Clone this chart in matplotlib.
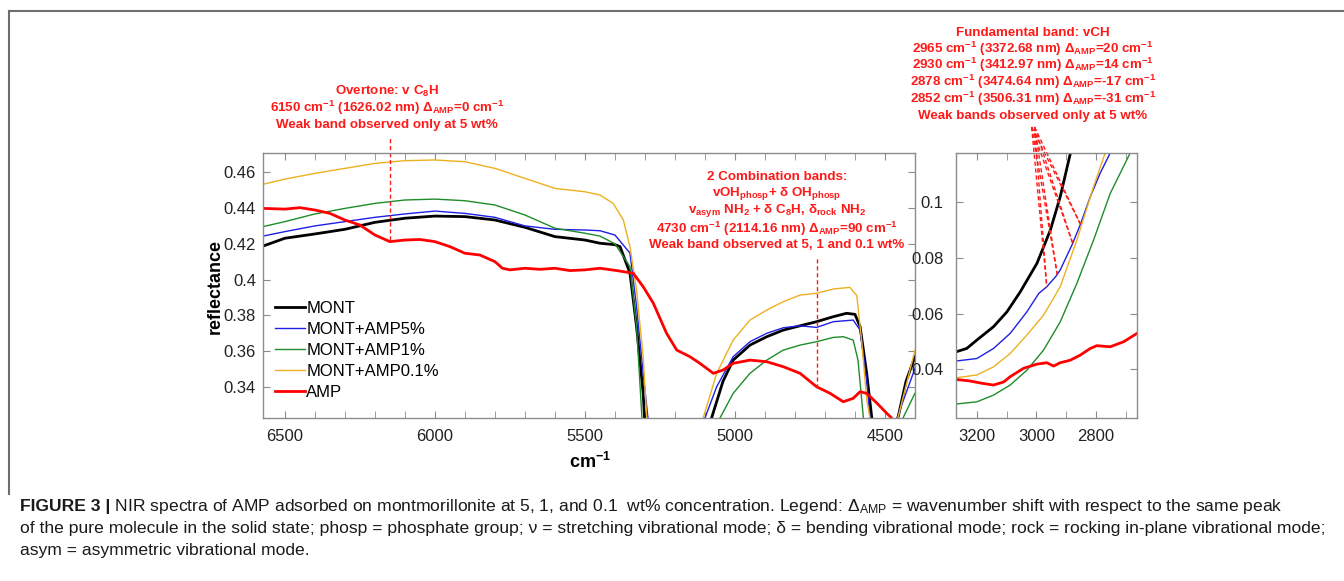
import numpy as np
import matplotlib.pyplot as plt
from matplotlib.lines import Line2D
from matplotlib.ticker import MultipleLocator, FuncFormatter

plt.rcParams['font.family'] = ['Liberation Sans', 'DejaVu Sans']
plt.rcParams['mathtext.fontset'] = 'custom'
plt.rcParams['mathtext.rm'] = 'Liberation Sans'
plt.rcParams['mathtext.bf'] = 'Liberation Sans:bold'
plt.rcParams['mathtext.it'] = 'Liberation Sans:italic'
plt.rcParams['mathtext.default'] = 'regular'

# ---- NIR region (cm-1 vs reflectance) ----
wn_mont = [6573, 6500, 6400, 6300, 6200, 6100, 6000, 5900, 5800, 5700, 5600, 5500, 5450, 5400,
           5383, 5350, 5328, 5306, 5294, 5270, 5100, 5078, 5040, 5006, 4950, 4894, 4839, 4783,
           4728, 4672, 4628, 4600, 4583, 4561, 4544, 4520, 4470, 4457, 4430, 4400]
r_mont = [0.4187, 0.4231, 0.4255, 0.4281, 0.4320, 0.4343, 0.4355, 0.4352, 0.4333, 0.4292, 0.4240,
          0.4221, 0.4203, 0.4195, 0.4184, 0.4036, 0.3736, 0.3364, 0.3000, 0.2800, 0.2800, 0.3225,
          0.3430, 0.3549, 0.3633, 0.3680, 0.3717, 0.3741, 0.3764, 0.3792, 0.3811, 0.3805, 0.3736,
          0.3475, 0.3225, 0.2900, 0.2900, 0.3225, 0.3430, 0.3568]

wn_amp5 = [6573, 6500, 6400, 6300, 6200, 6100, 6000, 5900, 5800, 5700, 5600, 5500, 5450, 5400,
           5350, 5328, 5306, 5290, 5270, 5120, 5100, 5061, 5006, 4950, 4894, 4839, 4783, 4728,
           4672, 4606, 4583, 4561, 4550, 4530, 4470, 4460, 4400]
r_amp5 = [0.4243, 0.4268, 0.4300, 0.4324, 0.4348, 0.4367, 0.4383, 0.4370, 0.4348, 0.4300, 0.4281,
          0.4277, 0.4273, 0.4249, 0.4148, 0.3848, 0.3475, 0.3225, 0.2900, 0.2900, 0.3225, 0.3400,
          0.3568, 0.3652, 0.3699, 0.3730, 0.3741, 0.3732, 0.3764, 0.3773, 0.3717, 0.3438, 0.3225,
          0.2900, 0.2900, 0.3225, 0.3503]

wn_amp1 = [6573, 6500, 6400, 6300, 6200, 6100, 6000, 5900, 5800, 5700, 5600, 5500, 5450, 5400,
           5350, 5328, 5310, 5290, 5070, 5050, 5006, 4950, 4894, 4839, 4783, 4728, 4672, 4639,
           4606, 4590, 4572, 4555, 4460, 4440, 4400]
r_amp1 = [0.4296, 0.4324, 0.4367, 0.4398, 0.4426, 0.4445, 0.4450, 0.4441, 0.4417, 0.4361, 0.4287,
          0.4259, 0.4243, 0.4200, 0.4072, 0.3736, 0.3225, 0.2900, 0.2900, 0.3225, 0.3363, 0.3475,
          0.3549, 0.3605, 0.3633, 0.3652, 0.3676, 0.3680, 0.3661, 0.3549, 0.3225, 0.2900, 0.2900,
          0.3225, 0.3364]

wn_amp01 = [6573, 6500, 6400, 6300, 6200, 6100, 6000, 5900, 5800, 5700, 5600, 5500, 5450, 5406,
            5372, 5350, 5328, 5306, 5294, 5280, 5120, 5106, 5061, 5006, 4950, 4894, 4839, 4783,
            4728, 4672, 4617, 4594, 4578, 4561, 4550, 4535, 4470, 4457, 4400]
r_amp01 = [0.4533, 0.4562, 0.4594, 0.4622, 0.4650, 0.4665, 0.4669, 0.4659, 0.4622, 0.4566, 0.4510,
           0.4491, 0.4473, 0.4426, 0.4333, 0.4184, 0.3941, 0.3568, 0.3225, 0.2900, 0.2900, 0.3225,
           0.3475, 0.3661, 0.3773, 0.3829, 0.3876, 0.3913, 0.3923, 0.3947, 0.3956, 0.3910, 0.3661,
           0.3330, 0.3225, 0.2900, 0.2900, 0.3225, 0.3605]

wn_amp = [6573, 6500, 6450, 6400, 6350, 6300, 6250, 6200, 6150, 6100, 6050, 6000, 5950, 5900,
          5850, 5800, 5775, 5750, 5700, 5650, 5600, 5550, 5500, 5450, 5394, 5339, 5306, 5272,
          5228, 5194, 5150, 5117, 5072, 5039, 5006, 4950, 4894, 4839, 4783, 4728, 4683, 4639,
          4606, 4583, 4561, 4528, 4494, 4478, 4460]
r_amp = [0.4398, 0.4394, 0.4402, 0.4389, 0.4370, 0.4333, 0.4305, 0.4249, 0.4212, 0.4221, 0.4224,
         0.4212, 0.4184, 0.4147, 0.4137, 0.4100, 0.4063, 0.4054, 0.4063, 0.4057, 0.4063, 0.4050,
         0.4054, 0.4063, 0.4050, 0.4035, 0.3960, 0.3867, 0.3699, 0.3605, 0.3568, 0.3531, 0.3475,
         0.3494, 0.3531, 0.3549, 0.3540, 0.3512, 0.3475, 0.3400, 0.3363, 0.3316, 0.3335, 0.3372,
         0.3363, 0.3310, 0.3251, 0.3225, 0.3000]

# ---- MIR inset (vCH region) ----
wn_mir_mont = [3270, 3234, 3200, 3144, 3099, 3054, 2998, 2953, 2920, 2886]
r_mir_mont = [0.0463, 0.0475, 0.0505, 0.0553, 0.0606, 0.0678, 0.0780, 0.0899, 0.1018, 0.1173]
wn_mir_amp5 = [3270, 3200, 3144, 3088, 3032, 2992, 2965, 2934, 2920, 2879, 2853, 2819, 2786, 2752]
r_mir_amp5 = [0.0430, 0.0439, 0.0475, 0.0529, 0.0606, 0.0672, 0.0696, 0.0734, 0.0756, 0.0849,
              0.0917, 0.1018, 0.1102, 0.1175]
wn_mir_amp1 = [3270, 3200, 3144, 3088, 3032, 2976, 2920, 2864, 2808, 2752, 2685]
r_mir_amp1 = [0.0276, 0.0284, 0.0308, 0.0344, 0.0397, 0.0469, 0.0570, 0.0708, 0.0863, 0.1030, 0.1175]
wn_mir_amp01 = [3270, 3200, 3144, 3088, 3032, 2976, 2920, 2864, 2808, 2769]
r_mir_amp01 = [0.0370, 0.0380, 0.0409, 0.0457, 0.0523, 0.0594, 0.0696, 0.0863, 0.1054, 0.1175]
wn_mir_amp = [3270, 3226, 3181, 3144, 3110, 3088, 3043, 2998, 2965, 2942, 2920, 2886, 2853, 2819,
              2797, 2752, 2707, 2662]
r_mir_amp = [0.0364, 0.0359, 0.0350, 0.0344, 0.0355, 0.0374, 0.0404, 0.0419, 0.0424, 0.0412,
             0.0424, 0.0433, 0.0451, 0.0475, 0.0485, 0.0481, 0.0499, 0.0529]

labels = ['MONT', 'MONT+AMP5%', 'MONT+AMP1%', 'MONT+AMP0.1%', 'AMP']
colors = ['#000000', '#1f1fe6', '#1e8c2a', '#edb120', '#ff0000']
widths = [2.0, 1.0, 1.0, 1.0, 2.0]

# band positions used for annotations
overtone_wn = 6150
combination_wn = 4725
vch_bands = [2965, 2930, 2878, 2852]

W, H = 1344, 581
RED = '#ff1a1a'
AXC = '#8c8c8c'


def fx(x):
    return x / W


def fy(y):
    return 1 - y / H


def style_axes(ax, ypad):
    for s in ax.spines.values():
        s.set_color(AXC)
        s.set_linewidth(1.0)
    ax.tick_params(which='both', direction='in', top=True, right=True, length=5,
                   color=AXC, labelsize=12, labelcolor='#222222')
    ax.tick_params(axis='x', pad=8)
    ax.tick_params(axis='y', pad=ypad)
    ax.yaxis.set_major_formatter(FuncFormatter(lambda v, p: '{:g}'.format(round(v, 4))))


fig = plt.figure(figsize=(13.44, 5.81), dpi=100)

ax = fig.add_axes([fx(263), fy(418), fx(915 - 263), (418 - 153) / H])
main_x = [wn_mont, wn_amp5, wn_amp1, wn_amp01, wn_amp]
main_y = [r_mont, r_amp5, r_amp1, r_amp01, r_amp]
for xs, ys, c, lw, lab in zip(main_x, main_y, colors, widths, labels):
    ax.plot(xs, ys, color=c, lw=lw, label=lab)
ax.set_xlim(6573, 4400)
ax.set_ylim(0.3225, 0.4708)
ax.xaxis.set_major_locator(MultipleLocator(500))
ax.xaxis.set_minor_locator(MultipleLocator(100))
ax.yaxis.set_major_locator(MultipleLocator(0.02))
style_axes(ax, 5)
ax.legend(loc='lower left', bbox_to_anchor=(0.018, 0.068), frameon=False, fontsize=12,
          handlelength=1.8, handletextpad=0.1, labelspacing=0.36, borderpad=0, borderaxespad=0)

# vertical markers in the NIR panel
ax.plot([overtone_wn, overtone_wn], [0.4221, 0.4798], color=RED, lw=1, ls=(0, (3, 2)), clip_on=False)
ax.plot([combination_wn, combination_wn], [0.3391, 0.4128], color=RED, lw=1, ls=(0, (3, 2)))

ax2 = fig.add_axes([fx(956), fy(418), fx(1137 - 956), (418 - 153) / H])
mir_x = [wn_mir_mont, wn_mir_amp5, wn_mir_amp1, wn_mir_amp01, wn_mir_amp]
mir_y = [r_mir_mont, r_mir_amp5, r_mir_amp1, r_mir_amp01, r_mir_amp]
for xs, ys, c, lw in zip(mir_x, mir_y, colors, widths):
    ax2.plot(xs, ys, color=c, lw=lw)
ax2.set_xlim(3270, 2662)
ax2.set_ylim(0.0226, 0.1175)
ax2.xaxis.set_major_locator(MultipleLocator(200))
ax2.xaxis.set_minor_locator(MultipleLocator(100))
ax2.yaxis.set_major_locator(MultipleLocator(0.02))
style_axes(ax2, 9)

# leader lines from the vCH note to the 5% spectrum
for b in vch_bands:
    yb = np.interp(-b, [-v for v in wn_mir_amp5], r_mir_amp5)
    for x0 in (3016, 3006):
        ax2.plot([x0, b], [0.1268, yb], color=RED, lw=1, ls=(0, (3, 2)), clip_on=False)

# axis titles
fig.text(fx(215), fy(286), 'reflectance', rotation=90, ha='center', va='center',
         fontsize=13, fontweight='bold')
fig.text(fx(590), fy(462), r'cm$^{\mathbf{-1}}$', ha='center', va='center',
         fontsize=13, fontweight='bold')

# red notes, one text per line
txt = dict(color=RED, fontsize=9.6, fontweight='bold', ha='center', va='center')
overtone_lines = [r'Overtone: v C$_{\mathbf{8}}$H',
                  r'6150 cm$^{\mathbf{-1}}$ (1626.02 nm) Δ$_{\mathbf{AMP}}$=0 cm$^{\mathbf{-1}}$',
                  'Weak band observed only at 5 wt%']
for line, y in zip(overtone_lines, [91.0, 108.0, 125.0]):
    fig.text(fx(387), fy(y), line, **txt)

comb_lines = ['2 Combination bands:',
              r'vOH$_{\mathbf{phosp}}$+ δ OH$_{\mathbf{phosp}}$',
              r'v$_{\mathbf{asym}}$ NH$_{\mathbf{2}}$ + δ C$_{\mathbf{8}}$H, δ$_{\mathbf{rock}}$ NH$_{\mathbf{2}}$',
              r'4730 cm$^{\mathbf{-1}}$ (2114.16 nm) Δ$_{\mathbf{AMP}}$=90 cm$^{\mathbf{-1}}$',
              'Weak band observed at 5, 1 and 0.1 wt%']
for line, y in zip(comb_lines, [176.5, 194.0, 211.0, 228.5, 245.5]):
    fig.text(fx(777), fy(y), line, **txt)

fund_lines = ['Fundamental band: vCH',
              r'2965 cm$^{\mathbf{-1}}$ (3372.68 nm) Δ$_{\mathbf{AMP}}$=20 cm$^{\mathbf{-1}}$',
              r'2930 cm$^{\mathbf{-1}}$ (3412.97 nm) Δ$_{\mathbf{AMP}}$=14 cm$^{\mathbf{-1}}$',
              r'2878 cm$^{\mathbf{-1}}$ (3474.64 nm) Δ$_{\mathbf{AMP}}$=-17 cm$^{\mathbf{-1}}$',
              r'2852 cm$^{\mathbf{-1}}$ (3506.31 nm) Δ$_{\mathbf{AMP}}$=-31 cm$^{\mathbf{-1}}$',
              'Weak bands observed only at 5 wt%']
for line, y in zip(fund_lines, [32.5, 48.7, 65.3, 81.9, 98.5, 116.0]):
    fig.text(fx(1033), fy(y), line, **txt)

# panel frame (top and left edges)
fig.add_artist(Line2D([fx(9), 1], [fy(10.5), fy(10.5)], transform=fig.transFigure,
                      color='#6e6e6e', lw=1.5))
fig.add_artist(Line2D([fx(9), fx(9)], [fy(10.5), fy(494)], transform=fig.transFigure,
                      color='#6e6e6e', lw=1.5))

# caption
cap = dict(fontsize=12.6, color='#1a1a1a', va='center', ha='left')
head = fig.text(fx(20), fy(506), 'FIGURE 3 |', fontweight='bold', **cap)
ax.annotate(r' NIR spectra of AMP adsorbed on montmorillonite at 5, 1, and 0.1  wt% concentration. '
            r'Legend: Δ$_{AMP}$ = wavenumber shift with respect to the same peak',
            xy=(1, 0.5), xycoords=head, va='center', ha='left', fontsize=12.6, color='#1a1a1a',
            annotation_clip=False)
fig.text(fx(20), fy(528), 'of the pure molecule in the solid state; phosp = phosphate group; '
         'ν = stretching vibrational mode; δ = bending vibrational mode; '
         'rock = rocking in-plane vibrational mode;', **cap)
fig.text(fx(20), fy(550), 'asym = asymmetric vibrational mode.', **cap)

fig.savefig('out.png', dpi=100)
